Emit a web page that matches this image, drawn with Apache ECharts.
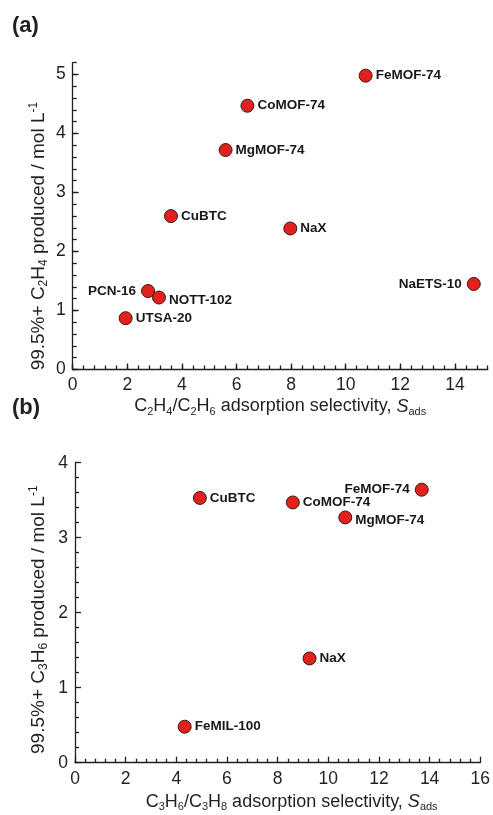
<!DOCTYPE html>
<html>
<head>
<meta charset="utf-8">
<script src="https://cdn.jsdelivr.net/npm/echarts@6/dist/echarts.min.js"></script>
<style>
html,body{margin:0;padding:0;background:#fff;}
#chart{width:493px;height:815px;}
</style>
</head>
<body>
<div id="chart"></div>
<script>
// ---- Data: panel (a) C2H4/C2H6 ----
const namesA = ['FeMOF-74', 'CoMOF-74', 'MgMOF-74', 'CuBTC', 'NaX', 'NaETS-10', 'PCN-16', 'NOTT-102', 'UTSA-20'];
const selA   = [10.73, 6.40, 5.60, 3.60, 7.97, 14.69, 2.76, 3.16, 1.94];
const prodA  = [4.98, 4.47, 3.72, 2.60, 2.39, 1.45, 1.33, 1.22, 0.87];
// ---- Data: panel (b) C3H6/C3H8 ----
const namesB = ['CuBTC', 'CoMOF-74', 'FeMOF-74', 'MgMOF-74', 'NaX', 'FeMIL-100'];
const selB   = [4.93, 8.60, 13.69, 10.67, 9.26, 4.33];
const prodB  = [3.53, 3.47, 3.64, 3.27, 1.39, 0.48];
// ---- Tick labels ----
const xTicksA = [0, 2, 4, 6, 8, 10, 12, 14];
const yTicksA = [0, 1, 2, 3, 4, 5];
const xTicksB = [0, 2, 4, 6, 8, 10, 12, 14, 16];
const yTicksB = [0, 1, 2, 3, 4];

// label placement (style only)
const placeA = {'PCN-16': 'left', 'NaETS-10': 'left'};
const offsetA = {'NOTT-102': [0, 3]};
const placeB = {'FeMOF-74': 'left'};
const offsetB = {'MgMOF-74': [0, 3]};

const TXT = '#231f20';
const FONT = '"Liberation Sans", Arial, sans-serif';

function items(names, xs, ys, place, offs) {
  return names.map((n, i) => {
    const it = {name: n, value: [xs[i], ys[i]]};
    const lab = {};
    if (place[n]) { lab.position = place[n]; lab.distance = 5; }
    if (offs[n]) lab.offset = offs[n];
    if (Object.keys(lab).length) it.label = lab;
    return it;
  });
}

function richFor(size, sub) {
  return {
    sub: {fontSize: sub, lineHeight: 10, verticalAlign: 'bottom', fontFamily: FONT, color: TXT},
    sup: {fontSize: sub, lineHeight: 10, verticalAlign: 'top', fontFamily: FONT, color: TXT},
    it:  {fontSize: size, lineHeight: 22, fontStyle: 'italic', fontFamily: FONT, color: TXT}
  };
}

const lineStyle = {color: TXT, width: 1.3};
const tickLabel = {fontSize: 17.5, color: TXT, fontFamily: FONT, margin: 7};
const pointStyle = {color: '#e3211c', borderColor: '#3a1a1a', borderWidth: 1, opacity: 1};
const pointLabel = {show: true, position: 'right', distance: 3, formatter: '{b}', fontSize: 13.5, fontWeight: 'bold', color: '#1a1718', fontFamily: FONT};

const chart = echarts.init(document.getElementById('chart'), null, {renderer: 'canvas'});
chart.setOption({
  animation: false,
  backgroundColor: '#fff',
  textStyle: {fontFamily: FONT},
  graphic: [
    {type: 'text', left: 12, top: 15, style: {text: '(a)', font: 'bold 22px ' + FONT, fill: TXT}},
    {type: 'text', left: 12, top: 397, style: {text: '(b)', font: 'bold 22px ' + FONT, fill: TXT}}
  ],
  grid: [
    {left: 72.7, top: 62.7, width: 415, height: 306.8},
    {left: 75, top: 462.7, width: 406, height: 300}
  ],
  xAxis: [
    {
      type: 'value', gridIndex: 0, min: 0, max: 15.2, position: 'bottom',
      axisLine: {show: true, lineStyle: lineStyle},
      axisTick: {show: true, inside: true, length: 6, lineStyle: lineStyle, customValues: xTicksA},
      axisLabel: Object.assign({customValues: xTicksA}, tickLabel),
      splitLine: {show: false},
      name: 'C{sub|2}H{sub|4}/C{sub|2}H{sub|6} adsorption selectivity, {it|S}{sub|ads}',
      nameLocation: 'middle', nameGap: 26,
      nameTextStyle: {fontSize: 18, lineHeight: 22, color: TXT, fontFamily: FONT, rich: richFor(18, 11)}
    },
    {
      type: 'value', gridIndex: 0, min: 0, max: 15.2, interval: 0.4, position: 'bottom',
      axisLine: {show: false},
      axisTick: {show: true, inside: true, length: 4, lineStyle: lineStyle},
      axisLabel: {show: false}, splitLine: {show: false}
    },
    {
      type: 'value', gridIndex: 1, min: 0, max: 16, interval: 2, position: 'bottom',
      axisLine: {show: true, lineStyle: lineStyle},
      axisTick: {show: true, inside: true, length: 6, lineStyle: lineStyle},
      minorTick: {show: true, splitNumber: 5, length: 4, lineStyle: lineStyle},
      axisLabel: Object.assign({customValues: xTicksB}, tickLabel),
      splitLine: {show: false},
      name: 'C{sub|3}H{sub|6}/C{sub|3}H{sub|8} adsorption selectivity, {it|S}{sub|ads}',
      nameLocation: 'middle', nameGap: 28,
      nameTextStyle: {fontSize: 18, lineHeight: 22, color: TXT, fontFamily: FONT, rich: richFor(18, 11), padding: [0, 0, 0, 28]}
    }
  ],
  yAxis: [
    {
      type: 'value', gridIndex: 0, min: 0, max: 5.2, position: 'left',
      axisLine: {show: true, lineStyle: lineStyle},
      axisTick: {show: true, inside: true, length: 6, lineStyle: lineStyle, customValues: yTicksA},
      axisLabel: Object.assign({customValues: yTicksA}, tickLabel),
      splitLine: {show: false},
      name: '99.5%+ C{sub|2}H{sub|4} produced / mol L{sup|-1}',
      nameLocation: 'middle', nameRotate: 90, nameGap: 23, nameMoveOverlap: false,
      nameTextStyle: {fontSize: 19, lineHeight: 22, color: TXT, fontFamily: FONT, rich: richFor(19, 12), padding: [0, 40, 0, 0]}
    },
    {
      type: 'value', gridIndex: 0, min: 0, max: 5.2, interval: 0.2, position: 'left',
      axisLine: {show: false},
      axisTick: {show: true, inside: true, length: 4, lineStyle: lineStyle},
      axisLabel: {show: false}, splitLine: {show: false}
    },
    {
      type: 'value', gridIndex: 1, min: 0, max: 4, interval: 1, position: 'left',
      axisLine: {show: true, lineStyle: lineStyle},
      axisTick: {show: true, inside: true, length: 6, lineStyle: lineStyle},
      minorTick: {show: true, splitNumber: 5, length: 4, lineStyle: lineStyle},
      axisLabel: Object.assign({customValues: yTicksB}, tickLabel),
      splitLine: {show: false},
      name: '99.5%+ C{sub|3}H{sub|6} produced / mol L{sup|-1}',
      nameLocation: 'middle', nameRotate: 90, nameGap: 25, nameMoveOverlap: false,
      nameTextStyle: {fontSize: 19, lineHeight: 22, color: TXT, fontFamily: FONT, rich: richFor(19, 12), padding: [0, 14, 0, 0]}
    }
  ],
  series: [
    {
      type: 'scatter', xAxisIndex: 0, yAxisIndex: 0,
      symbol: 'circle', symbolSize: 13,
      itemStyle: pointStyle,
      label: pointLabel,
      data: items(namesA, selA, prodA, placeA, offsetA)
    },
    {
      type: 'scatter', xAxisIndex: 2, yAxisIndex: 2,
      symbol: 'circle', symbolSize: 13,
      itemStyle: pointStyle,
      label: pointLabel,
      data: items(namesB, selB, prodB, placeB, offsetB)
    }
  ]
});
</script>
</body>
</html>
